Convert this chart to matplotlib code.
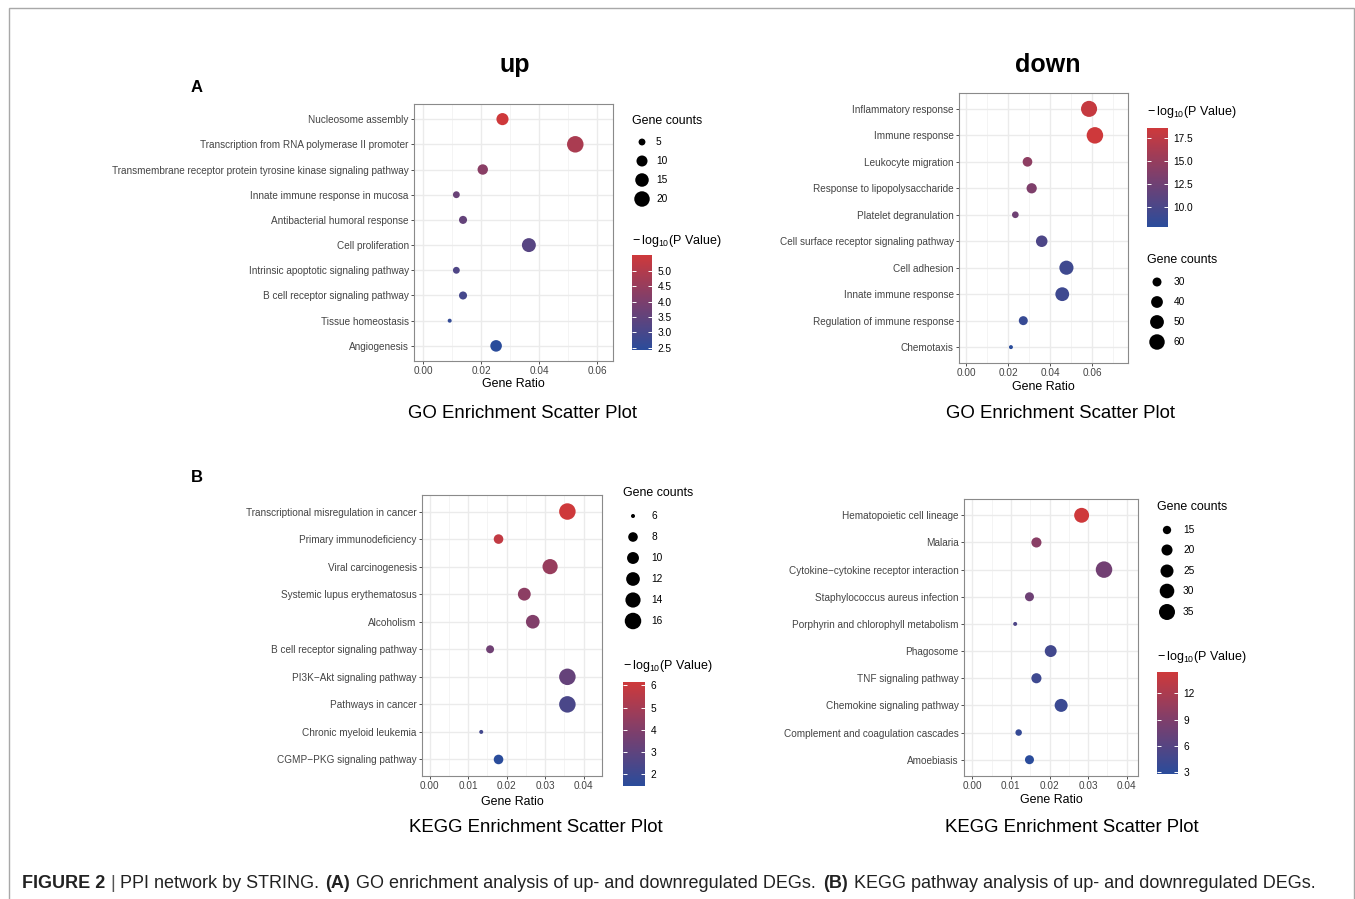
import numpy as np
import matplotlib
matplotlib.use("Agg")
import matplotlib.pyplot as plt
from matplotlib.colors import LinearSegmentedColormap, Normalize
from matplotlib.cm import ScalarMappable
from matplotlib.ticker import FixedLocator, FormatStrFormatter

plt.rcParams["font.family"] = ["Liberation Sans", "DejaVu Sans"]
plt.rcParams["mathtext.default"] = "regular"

# ---------------- data ----------------
go_up_terms = ["Nucleosome assembly",
               "Transcription from RNA polymerase II promoter",
               "Transmembrane receptor protein tyrosine kinase signaling pathway",
               "Innate immune response in mucosa",
               "Antibacterial humoral response",
               "Cell proliferation",
               "Intrinsic apoptotic signaling pathway",
               "B cell receptor signaling pathway",
               "Tissue homeostasis",
               "Angiogenesis"]
go_up_ratio = [0.0273, 0.0524, 0.0205, 0.0114, 0.0137, 0.0364, 0.0114, 0.0137, 0.0091, 0.0251]
go_up_count = [12, 23, 9, 5, 6, 16, 5, 6, 4, 11]
go_up_logp = [5.51, 4.85, 4.25, 3.65, 3.55, 3.30, 3.15, 2.95, 2.60, 2.43]

go_down_terms = ["Inflammatory response", "Immune response", "Leukocyte migration",
                 "Response to lipopolysaccharide", "Platelet degranulation",
                 "Cell surface receptor signaling pathway", "Cell adhesion",
                 "Innate immune response", "Regulation of immune response", "Chemotaxis"]
go_down_ratio = [0.0586, 0.0614, 0.0292, 0.0312, 0.0234, 0.0360, 0.0478, 0.0458, 0.0272, 0.0213]
go_down_count = [64, 67, 32, 34, 25, 39, 52, 50, 30, 23]
go_down_logp = [18.0, 18.58, 14.5, 13.5, 12.5, 10.2, 9.3, 9.2, 8.7, 7.85]

kegg_up_terms = ["Transcriptional misregulation in cancer", "Primary immunodeficiency",
                 "Viral carcinogenesis", "Systemic lupus erythematosus", "Alcoholism",
                 "B cell receptor signaling pathway", "PI3K\u2212Akt signaling pathway",
                 "Pathways in cancer", "Chronic myeloid leukemia", "CGMP\u2212PKG signaling pathway"]
kegg_up_ratio = [0.0358, 0.0179, 0.0313, 0.0246, 0.0268, 0.0157, 0.0358, 0.0358, 0.0134, 0.0179]
kegg_up_count = [16, 8, 14, 11, 12, 7, 16, 16, 6, 8]
kegg_up_logp = [6.15, 5.8, 4.6, 4.3, 4.0, 3.5, 3.2, 2.4, 2.2, 1.46]

kegg_down_terms = ["Hematopoietic cell lineage", "Malaria",
                   "Cytokine\u2212cytokine receptor interaction",
                   "Staphylococcus aureus infection",
                   "Porphyrin and chlorophyll metabolism", "Phagosome",
                   "TNF signaling pathway", "Chemokine signaling pathway",
                   "Complement and coagulation cascades", "Amoebiasis"]
kegg_down_ratio = [0.0283, 0.0166, 0.0341, 0.0148, 0.0111, 0.0203, 0.0166, 0.0230, 0.0120, 0.0148]
kegg_down_count = [31, 18, 37, 16, 12, 22, 18, 25, 13, 16]
kegg_down_logp = [14.45, 9.7, 8.0, 7.8, 5.5, 4.6, 4.3, 4.0, 3.6, 2.82]

go_up_size_breaks = [5, 10, 15, 20]
go_down_size_breaks = [30, 40, 50, 60]
kegg_up_size_breaks = [6, 8, 10, 12, 14, 16]
kegg_down_size_breaks = [15, 20, 25, 30, 35]

go_up_color_breaks = [2.5, 3.0, 3.5, 4.0, 4.5, 5.0]
go_down_color_breaks = [10.0, 12.5, 15.0, 17.5]
kegg_up_color_breaks = [2, 3, 4, 5, 6]
kegg_down_color_breaks = [3, 6, 9, 12]

caption_parts = [("FIGURE 2", "bold", "#222222"), ("|", "normal", "#555555"),
                 ("PPI network by STRING.", "normal", "#222222"), ("(A)", "bold", "#222222"),
                 ("GO enrichment analysis of up- and downregulated DEGs.", "normal", "#222222"),
                 ("(B)", "bold", "#222222"),
                 ("KEGG pathway analysis of up- and downregulated DEGs.", "normal", "#222222")]

# ---------------- figure ----------------
W, H = 1355, 899
fig = plt.figure(figsize=(W / 100, H / 100), dpi=100)

overlay = fig.add_axes([0, 0, 1, 1], zorder=5)
overlay.set_xlim(0, W)
overlay.set_ylim(H, 0)
overlay.axis("off")
overlay.patch.set_alpha(0)

overlay.plot([9, 9, 1354, 1354], [905, 8, 8, 905], color="#a8a8a8", lw=1.0,
             solid_joinstyle="miter")

cmap = LinearSegmentedColormap.from_list("bp", ["#2A4C9B", "#7A3F6E", "#CE393B"])

D_MIN, D_MAX = 4.0, 16.5


def dot_area(v, vmin, vmax):
    frac = (np.asarray(v, float) - vmin) / (vmax - vmin)
    d = D_MIN + (D_MAX - D_MIN) * np.sqrt(np.clip(frac, 0, 1))
    return (d * 0.72) ** 2


def px_axes(x0, y0, x1, y1):
    return fig.add_axes([x0 / W, 1 - y1 / H, (x1 - x0) / W, (y1 - y0) / H])


def draw_panel(box, terms, ratio, count, logp, xlim, xmajor, xminor, xlab_y,
               size_breaks, size_title_xy, size_dot_ys, size_lab_dx,
               color_breaks, cfmt, cbar_box, ctitle_xy):
    ax = px_axes(*box)
    n = len(terms)
    ypos = np.arange(n)[::-1]
    vmin, vmax = min(logp), max(logp)
    cmin, cmax = min(count), max(count)
    ax.scatter(ratio, ypos, s=dot_area(count, cmin, cmax), c=logp, cmap=cmap,
               vmin=vmin, vmax=vmax, linewidths=0, zorder=3)
    ax.set_xlim(*xlim)
    ax.set_ylim(-0.6, n - 1 + 0.6)
    ax.set_yticks(ypos)
    ax.set_yticklabels(terms)
    ax.xaxis.set_major_locator(FixedLocator(xmajor))
    ax.xaxis.set_minor_locator(FixedLocator(xminor))
    ax.xaxis.set_major_formatter(FormatStrFormatter("%.2f"))
    ax.grid(True, which="major", color="#EBEBEB", lw=1.0, zorder=0)
    ax.grid(True, which="minor", axis="x", color="#F2F2F2", lw=0.6, zorder=0)
    ax.set_axisbelow(True)
    ax.tick_params(which="major", length=2.3, width=0.6, color="#333333",
                   labelsize=7.2, labelcolor="#444444", pad=1.5)
    ax.tick_params(which="minor", length=0)
    for sp in ax.spines.values():
        sp.set_color("#8A8A8A")
        sp.set_linewidth(0.8)
    xc = (box[0] + box[2]) / 2
    overlay.text(xc, xlab_y, "Gene Ratio", ha="center", va="center",
                 fontsize=8.9, color="black")

    # size legend
    overlay.text(size_title_xy[0], size_title_xy[1], "Gene counts", ha="left",
                 va="center", fontsize=8.9, color="black")
    dot_x = size_title_xy[0] + 10
    overlay.scatter([dot_x] * len(size_breaks), size_dot_ys,
                    s=dot_area(size_breaks, cmin, cmax), color="black", linewidths=0)
    for b, yy in zip(size_breaks, size_dot_ys):
        overlay.text(dot_x + size_lab_dx, yy, str(b), ha="left", va="center",
                     fontsize=7.3, color="black")

    # colour bar
    overlay.text(ctitle_xy[0], ctitle_xy[1], "$-\\,log_{10}$(P Value)", ha="left",
                 va="center", fontsize=9.0, color="black")
    cax = px_axes(*cbar_box)
    sm = ScalarMappable(norm=Normalize(vmin, vmax), cmap=cmap)
    cb = fig.colorbar(sm, cax=cax, ticks=color_breaks, format=cfmt)
    cb.outline.set_visible(False)
    cax.yaxis.set_ticks_position("both")
    cax.yaxis.set_label_position("right")
    cax.tick_params(axis="y", which="major", direction="in", length=3.2, width=0.7,
                    colors="white", labelsize=7.3, pad=4,
                    left=True, right=True, labelleft=False, labelright=True)
    for lab in cax.get_yticklabels():
        lab.set_color("black")
    return ax


draw_panel((414, 104, 613, 361), go_up_terms, go_up_ratio, go_up_count, go_up_logp,
           (-0.0032, 0.0654), [0, 0.02, 0.04, 0.06], [0.01, 0.03, 0.05], 384,
           go_up_size_breaks, (632, 121), [142, 161, 180, 199], 14,
           go_up_color_breaks, "%.1f", (632, 255, 652, 350), (632, 241))

draw_panel((959, 93, 1128, 363), go_down_terms, go_down_ratio, go_down_count, go_down_logp,
           (-0.0035, 0.0772), [0, 0.02, 0.04, 0.06], [0.01, 0.03, 0.05, 0.07], 387,
           go_down_size_breaks, (1147, 260), [282, 302, 322, 342], 17,
           go_down_color_breaks, "%.1f", (1147, 128, 1168, 227), (1147, 112))

draw_panel((422, 495, 602, 776), kegg_up_terms, kegg_up_ratio, kegg_up_count, kegg_up_logp,
           (-0.002, 0.0448), [0, 0.01, 0.02, 0.03, 0.04], [0.005, 0.015, 0.025, 0.035], 802,
           kegg_up_size_breaks, (623, 493), [516, 537, 558, 579, 600, 621], 18,
           kegg_up_color_breaks, "%d", (623, 682, 645, 786), (623, 666))

draw_panel((964, 499, 1138, 776), kegg_down_terms, kegg_down_ratio, kegg_down_count,
           kegg_down_logp,
           (-0.00215, 0.0429), [0, 0.01, 0.02, 0.03, 0.04], [0.005, 0.015, 0.025, 0.035], 800,
           kegg_down_size_breaks, (1157, 507), [530, 550, 571, 591, 612], 16,
           kegg_down_color_breaks, "%d", (1157, 672, 1178, 774), (1157, 657))

# headings and panel titles
overlay.text(515, 65, "up", ha="center", va="center", fontsize=18, fontweight="bold")
overlay.text(1048, 65, "down", ha="center", va="center", fontsize=18, fontweight="bold")
overlay.text(197, 88, "A", ha="center", va="center", fontsize=12, fontweight="bold")
overlay.text(197, 477, "B", ha="center", va="center", fontsize=12, fontweight="bold")
for x, y, t in [(523, 413, "GO Enrichment Scatter Plot"),
                (1060, 413, "GO Enrichment Scatter Plot"),
                (536, 828, "KEGG Enrichment Scatter Plot"),
                (1072, 828, "KEGG Enrichment Scatter Plot")]:
    overlay.text(x, y, t, ha="center", va="center", fontsize=13.4, color="black")

# caption laid out piece by piece
fig.canvas.draw()
renderer = fig.canvas.get_renderer()


def text_width(s, size, weight):
    t = overlay.text(0, 0, s, fontsize=size, fontweight=weight)
    w = t.get_window_extent(renderer).width
    t.remove()
    return w


base = 12.5
space = text_width("x x", base, "normal") - text_width("xx", base, "normal")
widths = [text_width(p[0], base, p[1]) for p in caption_parts]
total = sum(widths) + space * (len(widths) - 1)
size = base * (1318 - 22) / total
scale = size / base
x = 22.0
for (s, wgt, col), w in zip(caption_parts, widths):
    overlay.text(x, 884, s, ha="left", va="center", fontsize=size, fontweight=wgt,
                 color=col)
    x += (w + space) * scale

fig.savefig("out.png", dpi=100)
